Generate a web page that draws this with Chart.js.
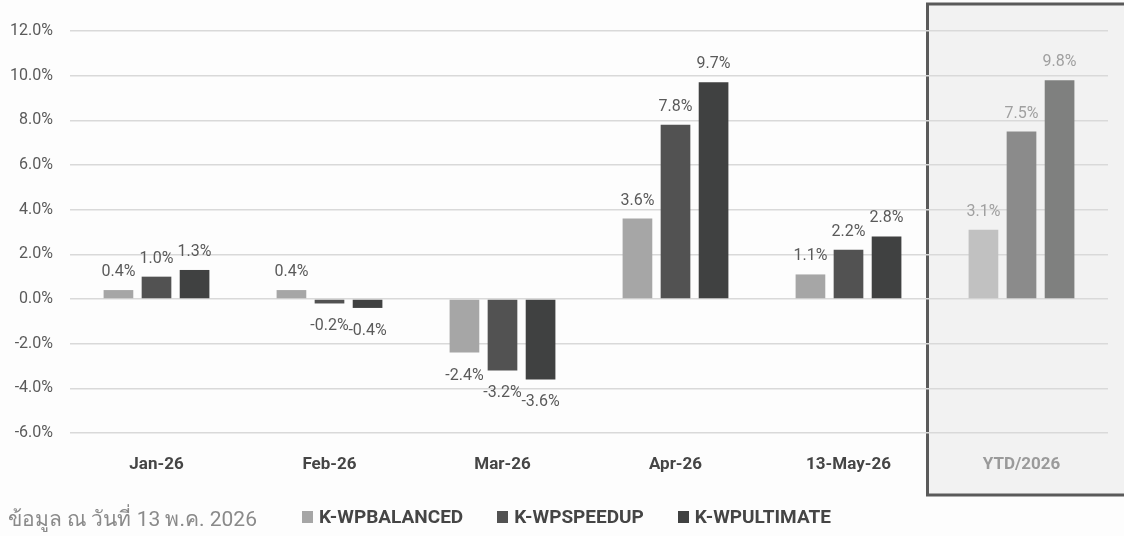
<!DOCTYPE html>
<html>
<head>
<meta charset="utf-8">
<script src="https://cdn.jsdelivr.net/npm/chart.js@4.4.1/dist/chart.umd.min.js"></script>
<style>
  html, body { margin: 0; padding: 0; background: #fdfdfd; }
  #wrap { position: relative; width: 1124px; height: 536px; overflow: hidden; }
  #note { position: absolute; left: 8px; top: 502px; font: 21px Roboto, "Noto Sans", sans-serif; color: #8a8a8a; }
  #legend { position: absolute; left: 302px; top: 505px; display: flex; font: bold 19px Roboto, sans-serif; color: #454545; }
  #legend .item { display: flex; align-items: center; margin-right: 34px; }
  #legend .box { width: 11px; height: 12px; margin-right: 6px; }
</style>
</head>
<body>
<div id="wrap">
  <canvas id="myChart" width="1124" height="536"></canvas>
  <div id="note">ข้อมูล ณ วันที่ 13 พ.ค. 2026</div>
  <div id="legend"></div>
</div>
<script>
// data (%)
const months = ['Jan-26', 'Feb-26', 'Mar-26', 'Apr-26', '13-May-26', 'YTD/2026']
const balanced = [0.4, 0.4, -2.4, 3.6, 1.1, 3.1]
const speedup = [1.0, -0.2, -3.2, 7.8, 2.2, 7.5]
const ultimate = [1.3, -0.4, -3.6, 9.7, 2.8, 9.8]
const yTicks = [-6, -4, -2, 0, 2, 4, 6, 8, 10, 12]

const names = ['K-WPBALANCED', 'K-WPSPEEDUP', 'K-WPULTIMATE']
const colors = ['#a6a6a6', '#525252', '#404141']
const ytdColors = ['#c1c1c1', '#8b8b8b', '#7f807f']
const ytdIndex = months.length - 1

function barColors(i) {
  return months.map((m, j) => j == ytdIndex ? ytdColors[i] : colors[i])
}

// grey box behind the YTD column
const ytdBox = {
  id: 'ytdBox',
  beforeDraw(chart) {
    const ctx = chart.ctx
    const x = chart.scales.x
    const left = x.getPixelForValue(ytdIndex) - 94
    ctx.save()
    ctx.fillStyle = '#f2f2f2'
    ctx.fillRect(left, 4, 1124, 491)
    ctx.strokeStyle = '#5a5a5a'
    ctx.lineWidth = 3
    ctx.strokeRect(left, 4, 1124, 491)
    ctx.restore()
  }
}

// value labels over / under each bar
const barLabels = {
  id: 'barLabels',
  afterDatasetsDraw(chart) {
    const ctx = chart.ctx
    ctx.save()
    ctx.font = '16px Roboto, sans-serif'
    ctx.textAlign = 'center'
    chart.data.datasets.forEach((ds, i) => {
      chart.getDatasetMeta(i).data.forEach((bar, j) => {
        const v = ds.data[j]
        ctx.fillStyle = j == ytdIndex ? '#a0a0a0' : '#5a5a5a'
        const txt = v.toFixed(1) + '%'
        if (v >= 0) {
          ctx.textBaseline = 'alphabetic'
          ctx.fillText(txt, bar.x, bar.y - 14)
        } else {
          ctx.textBaseline = 'top'
          ctx.fillText(txt, bar.x, bar.y + 15)
        }
      })
    })
    ctx.restore()
  }
}

const ctx = document.getElementById('myChart').getContext('2d')
const chart = new Chart(ctx, {
  type: 'bar',
  data: {
    labels: months,
    datasets: names.map((n, i) => ({
      label: n,
      data: [balanced, speedup, ultimate][i],
      backgroundColor: barColors(i),
      borderWidth: 0,
      categoryPercentage: 0.66,
      barPercentage: 0.78
    }))
  },
  options: {
    responsive: false,
    animation: false,
    layout: { padding: { top: 31, right: 16, left: 0, bottom: 0 } },
    plugins: { legend: { display: false }, tooltip: { enabled: false } },
    scales: {
      x: {
        grid: { display: false, drawTicks: false },
        border: { display: false },
        ticks: {
          padding: 22,
          font: { family: 'Roboto', size: 17, weight: 'bold' },
          color: c => c.index == ytdIndex ? '#9a9a9a' : '#454545'
        },
        afterFit(scale) { scale.height = 103 }
      },
      y: {
        min: -6,
        max: 12,
        afterBuildTicks(scale) { scale.ticks = yTicks.map(v => ({ value: v })) },
        grid: { color: '#d9d9d9', lineWidth: 1.5, drawTicks: false },
        border: { display: false },
        ticks: {
          padding: 17,
          font: { family: 'Roboto', size: 16 },
          color: '#5a5a5a',
          callback: v => v.toFixed(1) + '%'
        },
        afterFit(scale) { scale.width = 70 }
      }
    }
  },
  plugins: [ytdBox, barLabels]
})

// legend row at the bottom
const legend = document.getElementById('legend')
names.forEach((n, i) => {
  const item = document.createElement('div')
  item.className = 'item'
  item.innerHTML = '<span class="box" style="background:' + colors[i] + '"></span>' + n
  legend.appendChild(item)
})
</script>
</body>
</html>
